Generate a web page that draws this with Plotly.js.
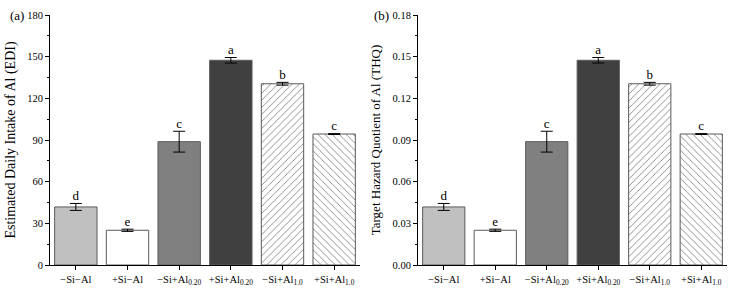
<!DOCTYPE html>
<html>
<head>
<meta charset="utf-8">
<script src="https://cdn.plot.ly/plotly-3.0.1.min.js"></script>
<style>html,body{margin:0;padding:0;background:#fff}#chart{width:735px;height:292px}</style>
</head>
<body>
<div id="chart"></div>
<script>
const categories = ['\u2212Si\u2212Al', '+Si\u2212Al', '\u2212Si+Al<sub>0.20</sub>', '+Si+Al<sub>0.20</sub>', '\u2212Si+Al<sub>1.0</sub>', '+Si+Al<sub>1.0</sub>'];
const ediValues = [41.8, 25.0, 88.8, 147.4, 130.5, 94.3];
const ediErrors = [2.5, 0.8, 7.5, 2.0, 1.0, 0.3];
const thqValues = [0.0418, 0.0250, 0.0888, 0.1474, 0.1305, 0.0943];
const thqErrors = [0.0025, 0.0008, 0.0075, 0.0020, 0.0010, 0.0003];
const letters = ['d', 'e', 'c', 'a', 'b', 'c'];
const fills = ['#c0c0c0', '#ffffff', '#808080', '#404040', '#ffffff', '#ffffff'];
const hatches = ['', '', '', '', '/', '\\'];

const FONT = 'Liberation Serif';

function barTraces(vals, errs, xa, ya) {
  const out = [];
  categories.forEach((c, i) => {
    const t = {
      type: 'bar', x: [c], y: [vals[i]], xaxis: xa, yaxis: ya, width: 0.82,
      marker: {color: fills[i], line: {color: '#5a5a5a', width: 1}},
      error_y: {type: 'data', array: [errs[i]], visible: true, color: '#000', thickness: 1, width: 6},
      showlegend: false, hoverinfo: 'none'
    };
    if (hatches[i]) {
      t.marker.pattern = {shape: hatches[i], fgcolor: '#6e6e6e', bgcolor: '#ffffff', size: 5, solidity: 0.15, fillmode: 'replace'};
    }
    out.push(t);
  });
  return out;
}
function letterTrace(vals, errs, xa, ya) {
  return {
    type: 'scatter', mode: 'text', x: categories,
    y: vals.map((v, i) => v + errs[i]), text: letters,
    textposition: 'top center', textfont: {family: FONT, size: 13, color: '#000'},
    xaxis: xa, yaxis: ya, cliponaxis: false, showlegend: false, hoverinfo: 'none'
  };
}

const xBase = {
  type: 'category', categoryarray: categories, categoryorder: 'array', range: [-0.5, 5.5],
  showline: true, linecolor: '#000', linewidth: 1,
  ticks: 'outside', ticklen: 4, tickcolor: '#000', showgrid: false, zeroline: false,
  tickfont: {family: FONT, size: 10.5, color: '#000'}, fixedrange: true
};
const yBase = {
  showline: true, linecolor: '#000', linewidth: 1, ticks: 'outside', ticklen: 4, tickcolor: '#000',
  showgrid: false, zeroline: false, tickfont: {family: FONT, size: 10.5, color: '#000'},
  minor: {ticks: 'outside', ticklen: 2, tickcolor: '#000', showgrid: false}
};

const data = [].concat(
  barTraces(ediValues, ediErrors, 'x', 'y'),
  [letterTrace(ediValues, ediErrors, 'x', 'y')],
  barTraces(thqValues, thqErrors, 'x2', 'y2'),
  [letterTrace(thqValues, thqErrors, 'x2', 'y2')]
);

const layout = {
  width: 735, height: 292,
  margin: {l: 0, r: 0, t: 15, b: 27},
  barmode: 'overlay',
  paper_bgcolor: '#fff', plot_bgcolor: '#fff',
  font: {family: FONT, color: '#000'},
  xaxis: Object.assign({}, xBase, {domain: [50 / 735, 360 / 735], anchor: 'y'}),
  xaxis2: Object.assign({}, xBase, {domain: [418 / 735, 727 / 735], anchor: 'y2'}),
  yaxis: Object.assign({}, yBase, {
    domain: [0, 1], anchor: 'x', range: [0, 180], dtick: 30, tick0: 0,
    minor: Object.assign({}, yBase.minor, {dtick: 15}),
    title: {text: 'Estimated Daily Intake of Al (EDI)', font: {family: FONT, size: 14, color: '#000'}, standoff: 8}
  }),
  yaxis2: Object.assign({}, yBase, {
    domain: [0, 1], anchor: 'x2', range: [0, 0.18], dtick: 0.03, tick0: 0, tickformat: '.2f',
    minor: Object.assign({}, yBase.minor, {dtick: 0.015}),
    title: {text: 'Target Hazard Quotient of Al (THQ)', font: {family: FONT, size: 13, color: '#000'}, standoff: 8}
  }),
  annotations: [
    {text: '(a)', xref: 'paper', yref: 'paper', x: 8 / 735, y: 1, xanchor: 'left', yanchor: 'middle', showarrow: false, font: {family: FONT, size: 13, color: '#000'}},
    {text: '(b)', xref: 'paper', yref: 'paper', x: 372 / 735, y: 1, xanchor: 'left', yanchor: 'middle', showarrow: false, font: {family: FONT, size: 13, color: '#000'}}
  ]
};

Plotly.newPlot('chart', data, layout, {staticPlot: true, displayModeBar: false});
</script>
</body>
</html>
